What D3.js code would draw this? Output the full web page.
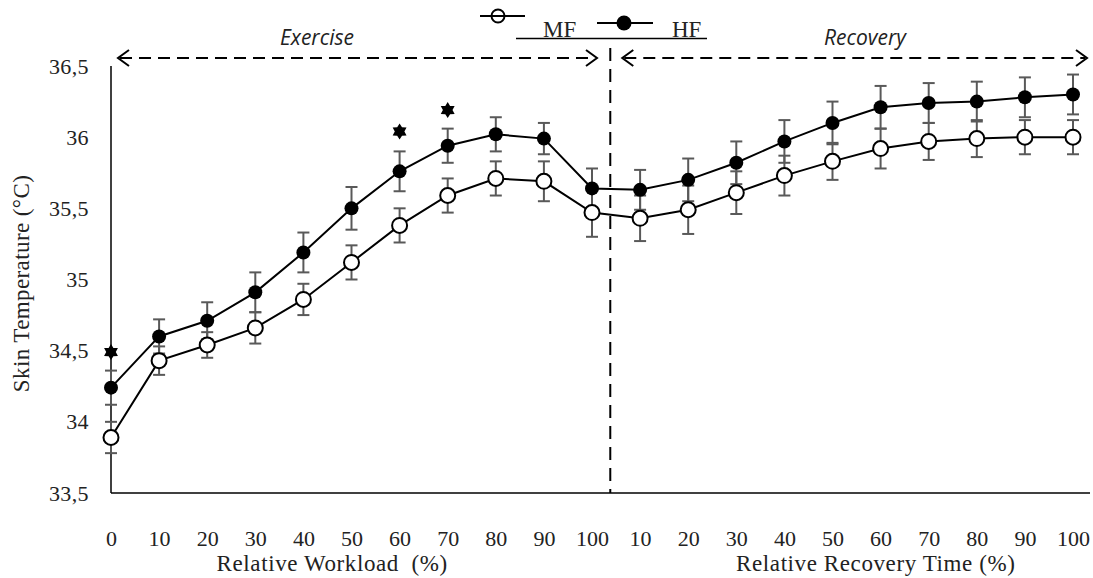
<!DOCTYPE html>
<html>
<head>
<meta charset="utf-8">
<script src="https://cdn.jsdelivr.net/npm/d3@7"></script>
<style>
  body { margin: 0; background: #fff; }
  svg { display: block; }
</style>
</head>
<body>
<div id="chart"></div>
<script>
"use strict";

// Data
var xLabels = ["0","10","20","30","40","50","60","70","80","90","100",
               "10","20","30","40","50","60","70","80","90","100"];
var mfValues = [33.89, 34.43, 34.54, 34.66, 34.86, 35.12, 35.38, 35.59, 35.71, 35.69, 35.47,
                35.43, 35.49, 35.61, 35.73, 35.83, 35.92, 35.97, 35.99, 36.00, 36.00];
var mfErrors = [0.11, 0.10, 0.09, 0.11, 0.11, 0.12, 0.12, 0.12, 0.12, 0.14, 0.17,
                0.16, 0.17, 0.15, 0.14, 0.13, 0.14, 0.13, 0.13, 0.12, 0.12];
var hfValues = [34.24, 34.60, 34.71, 34.91, 35.19, 35.50, 35.76, 35.94, 36.02, 35.99, 35.64,
                35.63, 35.70, 35.82, 35.97, 36.10, 36.21, 36.24, 36.25, 36.28, 36.30];
var hfErrors = [0.12, 0.12, 0.13, 0.14, 0.14, 0.15, 0.14, 0.12, 0.12, 0.11, 0.14,
                0.14, 0.15, 0.15, 0.15, 0.15, 0.15, 0.14, 0.14, 0.14, 0.14];
var starIndex = [0, 6, 7];
var starValues = [34.49, 36.04, 36.19];
var yTicks = [33.5, 34, 34.5, 35, 35.5, 36, 36.5];

var width = 1093, height = 578;
var margin = {top: 66, right: 20, bottom: 85, left: 111};
var serif = "'Liberation Serif', 'Times New Roman', serif";

var svg = d3.select("#chart").append("svg")
  .attr("width", width)
  .attr("height", height);

var idx = d3.range(xLabels.length);

var x = d3.scalePoint()
  .domain(idx)
  .range([margin.left, 1073]);

var y = d3.scaleLinear()
  .domain([33.5, 36.5])
  .range([height - margin.bottom, margin.top]);

var step = x.step();

// Axes
var yAxis = svg.append("g")
  .attr("transform", `translate(${margin.left},0)`)
  .call(d3.axisLeft(y).tickValues(yTicks).tickSize(0).tickPadding(22)
    .tickFormat(d => String(d).replace(".", ",")));
yAxis.select(".domain").remove();
yAxis.selectAll("text")
  .style("font-family", serif)
  .style("font-size", "22px")
  .style("letter-spacing", "0.4px")
  .attr("fill", "#222");

var xAxis = svg.append("g")
  .attr("transform", `translate(0,${y(33.5)})`)
  .call(d3.axisBottom(x).tickSize(0).tickPadding(37).tickFormat(i => xLabels[i]));
xAxis.select(".domain").remove();
xAxis.selectAll("text")
  .style("font-family", serif)
  .style("font-size", "22px")
  .attr("fill", "#222");

svg.append("line")
  .attr("x1", margin.left).attr("x2", margin.left)
  .attr("y1", y(36.5)).attr("y2", y(33.5))
  .attr("stroke", "#000").attr("stroke-width", 1.5);
svg.append("line")
  .attr("x1", margin.left).attr("x2", 1090)
  .attr("y1", y(33.5)).attr("y2", y(33.5))
  .attr("stroke", "#000").attr("stroke-width", 1.5);

// Axis titles
svg.append("text")
  .attr("transform", `translate(29,${(y(33.5) + y(36.5)) / 2 + 4}) rotate(-90)`)
  .attr("text-anchor", "middle")
  .style("font-family", serif)
  .style("font-size", "23px")
  .style("letter-spacing", "0.4px")
  .attr("fill", "#222")
  .text("Skin Temperature (°C)");

svg.append("text")
  .attr("x", x(0) + step * 4.6)
  .attr("y", 571)
  .attr("text-anchor", "middle")
  .style("font-family", serif)
  .style("font-size", "23px")
  .style("letter-spacing", "0.6px")
  .attr("fill", "#222")
  .attr("xml:space", "preserve")
  .text("Relative Workload  (%)");

svg.append("text")
  .attr("x", x(11) + step * 4.9)
  .attr("y", 571)
  .attr("text-anchor", "middle")
  .style("font-family", serif)
  .style("font-size", "23px")
  .style("letter-spacing", "0.6px")
  .attr("fill", "#222")
  .text("Relative Recovery Time (%)");

// Phase divider and arrows
var divX = x(10) + step * 0.38;

svg.append("line")
  .attr("x1", divX).attr("x2", divX)
  .attr("y1", 48).attr("y2", y(33.5))
  .attr("stroke", "#000").attr("stroke-width", 2)
  .attr("stroke-dasharray", "13,8");

function dashedArrow(x1, x2, yy) {
  var g = svg.append("g");
  g.append("line")
    .attr("x1", x1 + 2).attr("x2", x2 - 2)
    .attr("y1", yy).attr("y2", yy)
    .attr("stroke", "#000").attr("stroke-width", 2)
    .attr("stroke-dasharray", "12,7");
  g.append("path")
    .attr("d", `M${x1 + 11},${yy - 8}L${x1},${yy}L${x1 + 11},${yy + 8}`)
    .attr("fill", "none").attr("stroke", "#000").attr("stroke-width", 2);
  g.append("path")
    .attr("d", `M${x2 - 11},${yy - 8}L${x2},${yy}L${x2 - 11},${yy + 8}`)
    .attr("fill", "none").attr("stroke", "#000").attr("stroke-width", 2);
}
dashedArrow(x(0) + 7, x(10) + 5, 58);
dashedArrow(divX + 12, x(20) + 14, 58);

svg.append("text")
  .attr("x", 317).attr("y", 45)
  .attr("text-anchor", "middle")
  .style("font-family", "'Open Sans', sans-serif")
  .style("font-style", "italic")
  .style("font-size", "21px")
  .attr("fill", "#222")
  .text("Exercise");

svg.append("text")
  .attr("x", 865).attr("y", 45)
  .attr("text-anchor", "middle")
  .style("font-family", "'Open Sans', sans-serif")
  .style("font-style", "italic")
  .style("font-size", "21px")
  .attr("fill", "#222")
  .text("Recovery");

// Error bars
function errorBars(values, errors) {
  var g = svg.append("g");
  idx.forEach(function(i) {
    var cx = x(i), lo = y(values[i] - errors[i]), hi = y(values[i] + errors[i]);
    g.append("line").attr("x1", cx).attr("x2", cx).attr("y1", lo).attr("y2", hi);
    g.append("line").attr("x1", cx - 6).attr("x2", cx + 6).attr("y1", lo).attr("y2", lo);
    g.append("line").attr("x1", cx - 6).attr("x2", cx + 6).attr("y1", hi).attr("y2", hi);
  });
  g.selectAll("line").attr("stroke", "#595959").attr("stroke-width", 2);
}
errorBars(mfValues, mfErrors);
errorBars(hfValues, hfErrors);

// Lines
var line = d3.line().x((d, i) => x(i)).y(d => y(d));
svg.append("path").datum(mfValues)
  .attr("fill", "none").attr("stroke", "#000").attr("stroke-width", 2)
  .attr("d", line);
svg.append("path").datum(hfValues)
  .attr("fill", "none").attr("stroke", "#000").attr("stroke-width", 2)
  .attr("d", line);

// Markers
svg.append("g").selectAll("circle")
  .data(hfValues).enter().append("circle")
  .attr("cx", (d, i) => x(i))
  .attr("cy", d => y(d))
  .attr("r", 7)
  .attr("fill", "#000");

svg.append("g").selectAll("circle")
  .data(mfValues).enter().append("circle")
  .attr("cx", (d, i) => x(i))
  .attr("cy", d => y(d))
  .attr("r", 7.5)
  .attr("fill", "#fff")
  .attr("stroke", "#000")
  .attr("stroke-width", 2);

// Significance stars (six-pointed)
var starPts = d3.range(12).map(function(k) {
  var a = k * Math.PI / 6, r = k % 2 === 0 ? 8 : 4.8;
  return [r * Math.sin(a), -r * Math.cos(a)];
});
var starPath = "M" + starPts.map(p => p.join(",")).join("L") + "Z";
svg.append("g").selectAll("path")
  .data(starIndex).enter().append("path")
  .attr("transform", (d, k) => `translate(${x(d)},${y(starValues[k])})`)
  .attr("d", starPath)
  .attr("fill", "#000");

// Legend
var legend = svg.append("g");
legend.append("line")
  .attr("x1", 480).attr("x2", 525).attr("y1", 16).attr("y2", 16)
  .attr("stroke", "#000").attr("stroke-width", 2);
legend.append("circle")
  .attr("cx", 498).attr("cy", 16).attr("r", 6.5)
  .attr("fill", "none").attr("stroke", "#000").attr("stroke-width", 2);
legend.append("text")
  .attr("x", 543).attr("y", 37)
  .style("font-family", serif).style("font-size", "23px").attr("fill", "#222")
  .text("MF");
legend.append("line")
  .attr("x1", 597).attr("x2", 653).attr("y1", 23).attr("y2", 23)
  .attr("stroke", "#000").attr("stroke-width", 2);
legend.append("circle")
  .attr("cx", 624).attr("cy", 23).attr("r", 7.5)
  .attr("fill", "#000");
legend.append("text")
  .attr("x", 672).attr("y", 37)
  .style("font-family", serif).style("font-size", "23px").attr("fill", "#222")
  .text("HF");
legend.append("line")
  .attr("x1", 516).attr("x2", 707).attr("y1", 38.5).attr("y2", 38.5)
  .attr("stroke", "#000").attr("stroke-width", 1.5);
</script>
</body>
</html>
